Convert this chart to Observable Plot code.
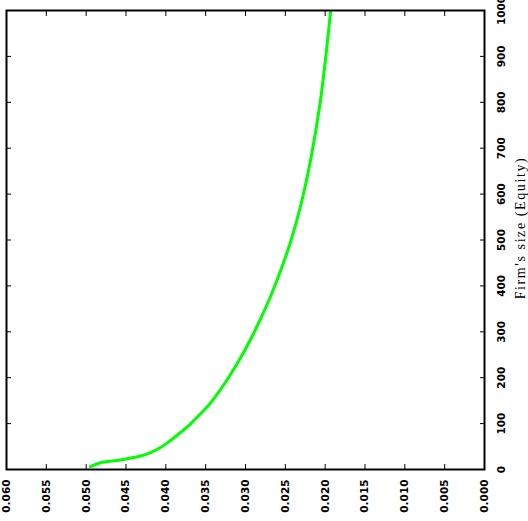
<!DOCTYPE html>
<html>
<head>
<meta charset="utf-8">
<script src="https://cdn.jsdelivr.net/npm/d3@7"></script>
<script src="https://cdn.jsdelivr.net/npm/@observablehq/plot@0.6"></script>
<style>
  html, body { margin: 0; padding: 0; background: #fff; }
  #chart svg { display: block; }
</style>
</head>
<body>
<div id="chart"></div>
<script>
// Firm's size (Equity)
const firmSize = [6.5, 14.6, 20.9, 29.4, 37.0, 47.9, 63.2, 80.6, 99.6, 121.4, 144.9, 174.3, 207.0, 242.9, 283.2, 327.9, 376.9, 432.5, 495.6, 573.0, 673.2, 803.9, 996];
// plotted value (horizontal axis, reversed)
const values = [0.04946, 0.04820, 0.04569, 0.04318, 0.04193, 0.04067, 0.03941, 0.03816, 0.03690, 0.03565, 0.03439, 0.03314, 0.03188, 0.03063, 0.02937, 0.02812, 0.02686, 0.02561, 0.02435, 0.02310, 0.02184, 0.02059, 0.01933];

const valueTicks = [0, 0.005, 0.01, 0.015, 0.02, 0.025, 0.03, 0.035, 0.04, 0.045, 0.05, 0.055, 0.06];
const sizeTicks = [0, 100, 200, 300, 400, 500, 600, 700, 800, 900, 1000];
const axisTitle = "Firm's size (Equity)";

const data = firmSize.map((s, i) => ({size: s, value: values[i]}));

const tickFont = "DejaVu Sans, sans-serif";

const chart = Plot.plot({
  width: 528,
  height: 521,
  marginLeft: 6,
  marginRight: 44,
  marginTop: 10,
  marginBottom: 52,
  style: {background: "#fff", color: "#000", overflow: "visible"},
  x: {domain: [0.06, 0], label: null},
  y: {domain: [0, 1000], label: null},
  marks: [
    Plot.line(data, {x: "value", y: "size", stroke: "#00ff00", strokeWidth: 3, curve: "catmull-rom"}),
    // bottom axis: inward ticks + rotated labels
    Plot.axisX({anchor: "bottom", ticks: valueTicks, tickFormat: d3.format(".3f"), tickSize: 5, dy: -5,
      tickPadding: 10, tickRotate: -90, fontSize: 10.5, fontWeight: "bold", fontFamily: tickFont, label: null}),
    // top mirror ticks
    Plot.axisX({anchor: "top", ticks: valueTicks, tickFormat: () => "", tickSize: 5, dy: 5, label: null}),
    // right axis: inward ticks + rotated labels
    Plot.axisY({anchor: "right", ticks: sizeTicks, tickFormat: d => String(d), tickSize: 5, dx: -5,
      tickPadding: 20, tickRotate: -90, fontSize: 10.5, fontWeight: "bold", fontFamily: tickFont, label: null}),
    // left mirror ticks
    Plot.axisY({anchor: "left", ticks: sizeTicks, tickFormat: () => "", tickSize: 5, dx: 5, label: null}),
    Plot.frame({stroke: "#000", strokeWidth: 2}),
    Plot.text([axisTitle], {frameAnchor: "right", dx: 36, dy: -12, rotate: -90, textAnchor: "middle", fontSize: 14,
      fontFamily: "Liberation Serif, serif", fill: "#000", className: "ytitle"})
  ]
});
d3.select(chart).selectAll(".ytitle text").attr("letter-spacing", "1.6px");
document.getElementById("chart").appendChild(chart);
</script>
</body>
</html>
